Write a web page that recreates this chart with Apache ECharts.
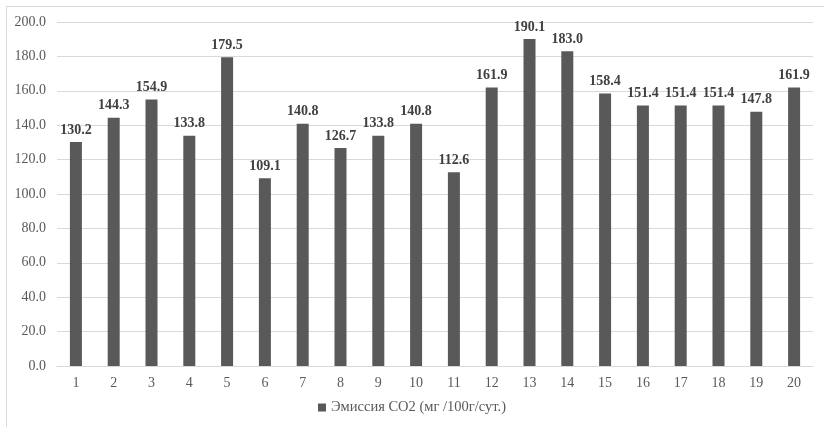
<!DOCTYPE html>
<html><head><meta charset="utf-8">
<script src="https://cdn.jsdelivr.net/npm/echarts@6/dist/echarts.min.js"></script>
<style>html,body{margin:0;padding:0;background:#fff}#c{width:824px;height:427px}
#frame{position:absolute;left:6px;top:6px;width:830px;height:440px;border:1px solid #d9d9d9;box-sizing:border-box;pointer-events:none}</style>
</head><body><div id="c"></div><div id="frame"></div>
<script>
const categories = ['1','2','3','4','5','6','7','8','9','10','11','12','13','14','15','16','17','18','19','20'];
const values = [130.2,144.3,154.9,133.8,179.5,109.1,140.8,126.7,133.8,140.8,112.6,161.9,190.1,183.0,158.4,151.4,151.4,151.4,147.8,161.9];
const seriesName = 'Эмиссия СО2 (мг /100г/сут.)';
const chart = echarts.init(document.getElementById('c'));
const font = '"Liberation Serif", "Times New Roman", serif';
chart.setOption({
  animation:false,
  textStyle:{fontFamily:font},
  grid:{left:57,right:11,top:22,bottom:61},
  legend:{bottom:7,left:'center',itemWidth:8,itemHeight:8,icon:'rect',itemGap:3,
    textStyle:{fontFamily:font,fontSize:14.5,color:'#595959'},data:[seriesName]},
  xAxis:{type:'category',data:categories,axisTick:{show:false},
    axisLine:{lineStyle:{color:'#d9d9d9'}},
    axisLabel:{fontFamily:font,fontSize:14,color:'#595959',margin:10}},
  yAxis:{type:'value',min:0,max:200,interval:20,
    axisLabel:{fontFamily:font,fontSize:14,color:'#595959',formatter:v=>v.toFixed(1),margin:11},
    splitLine:{lineStyle:{color:'#d9d9d9'}},axisLine:{show:false},axisTick:{show:false}},
  series:[{name:seriesName,type:'bar',data:values,barWidth:12,itemStyle:{color:'#595959'},
    label:{show:true,position:'top',distance:5,fontFamily:font,fontSize:14,fontWeight:'bold',color:'#404040',
      formatter:p=>p.value.toFixed(1)}}]
});
</script></body></html>
